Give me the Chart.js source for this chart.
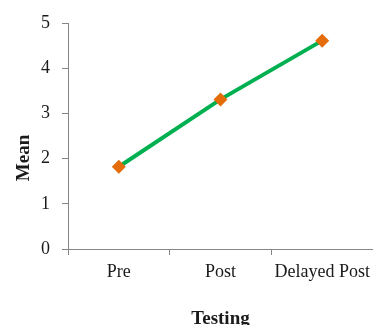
<!DOCTYPE html>
<html>
<head>
<meta charset="utf-8">
<script src="https://cdn.jsdelivr.net/npm/chart.js@4.4.1/dist/chart.umd.min.js"></script>
<style>
  html, body { margin: 0; padding: 0; background: #ffffff; }
  canvas { display: block; }
</style>
</head>
<body>
<canvas id="chart" width="373" height="325"></canvas>
<script>
// Mean score for each testing stage
const categories = ['Pre', 'Post', 'Delayed Post'];
const meanValues = [1.82, 3.31, 4.61];
const yTickValues = [0, 1, 2, 3, 4, 5];
const xAxisTitle = 'Testing';
const yAxisTitle = 'Mean';

const SERIF = '"Liberation Serif", "Times New Roman", serif';
const AXIS_GREY = '#868686';
const TEXT_COLOR = '#1a1a1a';

// Axis titles drawn beside the plot area
const axisTitles = {
  id: 'axisTitles',
  afterDraw(chart) {
    const { ctx, chartArea } = chart;
    ctx.save();
    ctx.fillStyle = TEXT_COLOR;
    ctx.font = 'bold 19px ' + SERIF;
    ctx.textAlign = 'center';
    ctx.textBaseline = 'middle';
    ctx.fillText(xAxisTitle, (chartArea.left + chartArea.right) / 2, chartArea.bottom + 70);
    ctx.translate(24, chartArea.top + 135);
    ctx.rotate(-Math.PI / 2);
    ctx.fillText(yAxisTitle, 0, 0);
    ctx.restore();
  }
};

new Chart(document.getElementById('chart'), {
  type: 'line',
  data: {
    labels: categories,
    datasets: [{
      data: meanValues,
      borderColor: '#00b050',
      borderWidth: 4,
      pointStyle: 'rectRot',
      pointRadius: 7,
      pointHoverRadius: 7,
      pointBackgroundColor: '#e46c0a',
      pointBorderColor: '#e46c0a',
      pointBorderWidth: 0,
      tension: 0,
      fill: false
    }]
  },
  options: {
    responsive: false,
    animation: false,
    devicePixelRatio: 1,
    layout: { autoPadding: false, padding: { top: 23, right: 0, bottom: 0, left: 0 } },
    plugins: {
      legend: { display: false },
      tooltip: { enabled: false }
    },
    scales: {
      x: {
        offset: true,
        grid: {
          offset: true,
          drawOnChartArea: false,
          drawTicks: true,
          tickLength: 6,
          color: AXIS_GREY
        },
        border: { color: AXIS_GREY, width: 1 },
        ticks: {
          color: TEXT_COLOR,
          font: { family: SERIF, size: 18 },
          padding: 6,
          maxRotation: 0,
          autoSkip: false
        },
        afterFit(scale) {
          scale.height = 76;
          scale.paddingLeft = 0;
          scale.paddingRight = 0;
        }
      },
      y: {
        min: 0,
        max: 5,
        afterBuildTicks(scale) {
          scale.ticks = yTickValues.map(v => ({ value: v }));
        },
        grid: {
          drawOnChartArea: false,
          drawTicks: true,
          tickLength: 6,
          color: AXIS_GREY
        },
        border: { color: AXIS_GREY, width: 1 },
        ticks: {
          color: TEXT_COLOR,
          font: { family: SERIF, size: 18 },
          padding: 12
        },
        afterFit(scale) { scale.width = 68; }
      }
    }
  },
  plugins: [axisTitles]
});
</script>
</body>
</html>
